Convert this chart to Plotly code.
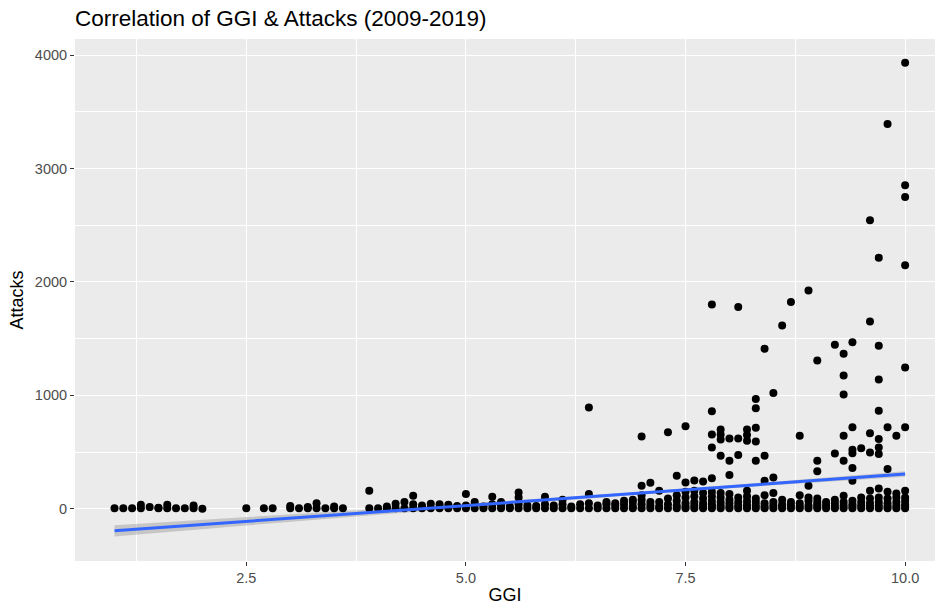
import plotly.graph_objects as go

# ---- data (GGI score, number of attacks) ----
ggi = (
    [1.0, 1.1, 1.2, 1.3, 1.3, 1.4, 1.5, 1.5, 1.6, 1.6, 1.7, 1.8, 1.9, 1.9, 2.0,
     2.5, 2.7, 2.8,
     3.0, 3.0, 3.1, 3.2, 3.2, 3.3, 3.3, 3.4, 3.5, 3.5, 3.6,
     3.9, 3.9, 4.0, 4.1, 4.1, 4.2, 4.2, 4.3, 4.3, 4.4, 4.4, 4.4,
     4.5, 4.5, 4.6, 4.6, 4.7, 4.7, 4.8, 4.8, 4.9, 4.9,
     5.0, 5.0, 5.0, 5.1, 5.1, 5.2, 5.2, 5.3, 5.3, 5.3, 5.4, 5.4, 5.4,
     5.5, 5.5, 5.6, 5.6, 5.6, 5.6, 5.7, 5.7, 5.8, 5.8, 5.9, 5.9, 5.9,
     6.0, 6.0, 6.1, 6.1, 6.1, 6.2, 6.2, 6.3, 6.3, 6.4, 6.4, 6.4, 6.4,
     6.5, 6.5, 6.6, 6.6, 6.6, 6.7, 6.7, 6.7, 6.8, 6.8, 6.8, 6.9, 6.9, 6.9, 6.9]
    + [7.0] * 6 + [7.1] * 4 + [7.2] * 4 + [7.3] * 4 + [7.4] * 5 + [7.5] * 7
    + [7.6] * 6 + [7.7] * 6 + [7.8] * 11 + [7.9] * 9 + [8.0] * 8 + [8.1] * 7
    + [8.2] * 9 + [8.3] * 9 + [8.4] * 7 + [8.5] * 6 + [8.6] * 5 + [8.7] * 4
    + [8.8] * 5 + [8.9] * 6 + [9.0] * 8 + [9.1] * 3 + [9.2] * 6 + [9.3] * 9
    + [9.4] * 10 + [9.5] * 5 + [9.6] * 9 + [9.7] * 12 + [9.8] * 8 + [9.9] * 6
    + [10.0] * 12
)

attacks = (
    [5, 5, 5, 5, 35, 15, 5, 10, 5, 35, 5, 5, 5, 30, 0,
     5, 5, 5,
     5, 25, 5, 5, 15, 5, 50, 5, 5, 20, 5,
     5, 160, 5, 5, 20, 5, 45, 5, 60, 5, 40, 115,
     5, 30, 5, 45, 5, 40, 5, 35, 5, 25,
     5, 30, 130, 5, 60, 5, 20, 5, 40, 106, 5, 30, 60,
     5, 20, 5, 40, 100, 144, 5, 30, 5, 25, 5, 40, 106,
     5, 30, 5, 40, 80, 5, 20, 5, 40, 5, 50, 130, 894,
     5, 30, 5, 40, 60, 5, 30, 50, 5, 40, 70, 5, 20, 60, 80]
    + [5, 40, 80, 120, 203, 638]
    + [5, 30, 60, 230]
    + [5, 20, 60, 160]
    + [5, 40, 90, 674]
    + [5, 30, 70, 120, 291]
    + [5, 20, 50, 100, 150, 232, 727]
    + [5, 30, 60, 110, 160, 250]
    + [5, 20, 50, 90, 140, 240]
    + [5, 20, 40, 70, 110, 150, 270, 541, 655, 859, 1801]
    + [5, 30, 60, 100, 140, 468, 610, 655, 700]
    + [5, 20, 50, 80, 130, 297, 424, 620]
    + [5, 30, 60, 100, 474, 620, 1778]
    + [5, 20, 40, 70, 110, 160, 600, 650, 700]
    + [5, 30, 60, 90, 424, 594, 715, 886, 968]
    + [5, 20, 50, 120, 247, 468, 1410]
    + [5, 30, 60, 140, 277, 1021]
    + [5, 20, 40, 80, 1616]
    + [5, 30, 60, 1822]
    + [5, 20, 50, 120, 645]
    + [5, 30, 70, 100, 203, 1925]
    + [5, 20, 40, 60, 90, 330, 424, 1307]
    + [5, 30, 60]
    + [5, 20, 50, 80, 488, 1445]
    + [5, 30, 60, 115, 424, 645, 1007, 1174, 1366]
    + [5, 20, 40, 70, 247, 359, 490, 520, 718, 1469]
    + [5, 30, 60, 100, 533]
    + [5, 20, 50, 90, 160, 497, 665, 1651, 2543]
    + [5, 30, 60, 100, 180, 483, 541, 615, 865, 1139, 1437, 2214]
    + [5, 20, 50, 90, 150, 350, 718, 3391]
    + [5, 30, 60, 100, 135, 645]
    + [5, 20, 40, 70, 100, 160, 718, 1245, 2146, 2749, 2852, 3932]
)

# linear-model smooth (geom_smooth(method = "lm"))
smooth_x = [1.0, 2.5, 4.0, 5.5, 7.0, 8.5, 10.0]
smooth_fit = [-194, -111, -27, 56, 139, 223, 306]
smooth_upper = [-144, -75, -2, 72, 151, 238, 330]
smooth_lower = [-244, -147, -52, 40, 127, 208, 282]

x_ticks = [2.5, 5.0, 7.5, 10.0]
x_tick_labels = ["2.5", "5.0", "7.5", "10.0"]
y_ticks = [0, 1000, 2000, 3000, 4000]
y_tick_labels = ["0", "1000", "2000", "3000", "4000"]

fig = go.Figure()
fig.add_trace(go.Scatter(
    x=smooth_x + smooth_x[::-1], y=smooth_upper + smooth_lower[::-1],
    mode="lines", fill="toself", fillcolor="rgba(153,153,153,0.45)",
    line=dict(width=0), hoverinfo="skip", showlegend=False))
fig.add_trace(go.Scatter(
    x=ggi, y=attacks, mode="markers",
    marker=dict(color="black", size=8, line=dict(width=0)),
    showlegend=False))
fig.add_trace(go.Scatter(
    x=smooth_x, y=smooth_fit, mode="lines", line=dict(color="#3366FF", width=3),
    showlegend=False))

font_family = "Liberation Sans, Arial, sans-serif"
fig.update_layout(
    width=935, height=609,
    margin=dict(l=75, r=0, t=39, b=48),
    paper_bgcolor="white", plot_bgcolor="#EBEBEB",
    font=dict(family=font_family, color="black"),
    title=dict(text="Correlation of GGI & Attacks (2009-2019)",
               x=75 / 935, xanchor="left", xref="container",
               y=1 - 18 / 609, yanchor="middle", yref="container",
               font=dict(size=22.5, color="black")),
    showlegend=False,
)
fig.update_xaxes(
    automargin=False,
    range=[0.55, 10.34], tickvals=x_ticks, ticktext=x_tick_labels,
    showgrid=True, gridcolor="white", gridwidth=1.2, zeroline=False,
    minor=dict(showgrid=True, gridcolor="white", gridwidth=0.6,
               tickvals=[1.25, 3.75, 6.25, 8.75], ticks=""),
    ticks="outside", ticklen=4, tickcolor="#333333", tickwidth=1,
    tickfont=dict(size=14.5, color="#4D4D4D"),
    title=dict(text="GGI", font=dict(size=18), standoff=2),
    showline=False,
)
fig.update_yaxes(
    automargin=False,
    range=[-460, 4141], tickvals=y_ticks, ticktext=y_tick_labels,
    showgrid=True, gridcolor="white", gridwidth=1.2, zeroline=False,
    minor=dict(showgrid=True, gridcolor="white", gridwidth=0.6,
               tickvals=[500, 1500, 2500, 3500], ticks=""),
    ticks="outside", ticklen=4, tickcolor="#333333", tickwidth=1,
    tickfont=dict(size=14.5, color="#4D4D4D"),
    title=dict(text="Attacks", font=dict(size=18), standoff=6),
    showline=False,
)

fig.write_html(
    "out.html",
    config={"displayModeBar": False},
    post_script="document.body.style.margin='0';document.body.style.overflow='hidden';",
)
